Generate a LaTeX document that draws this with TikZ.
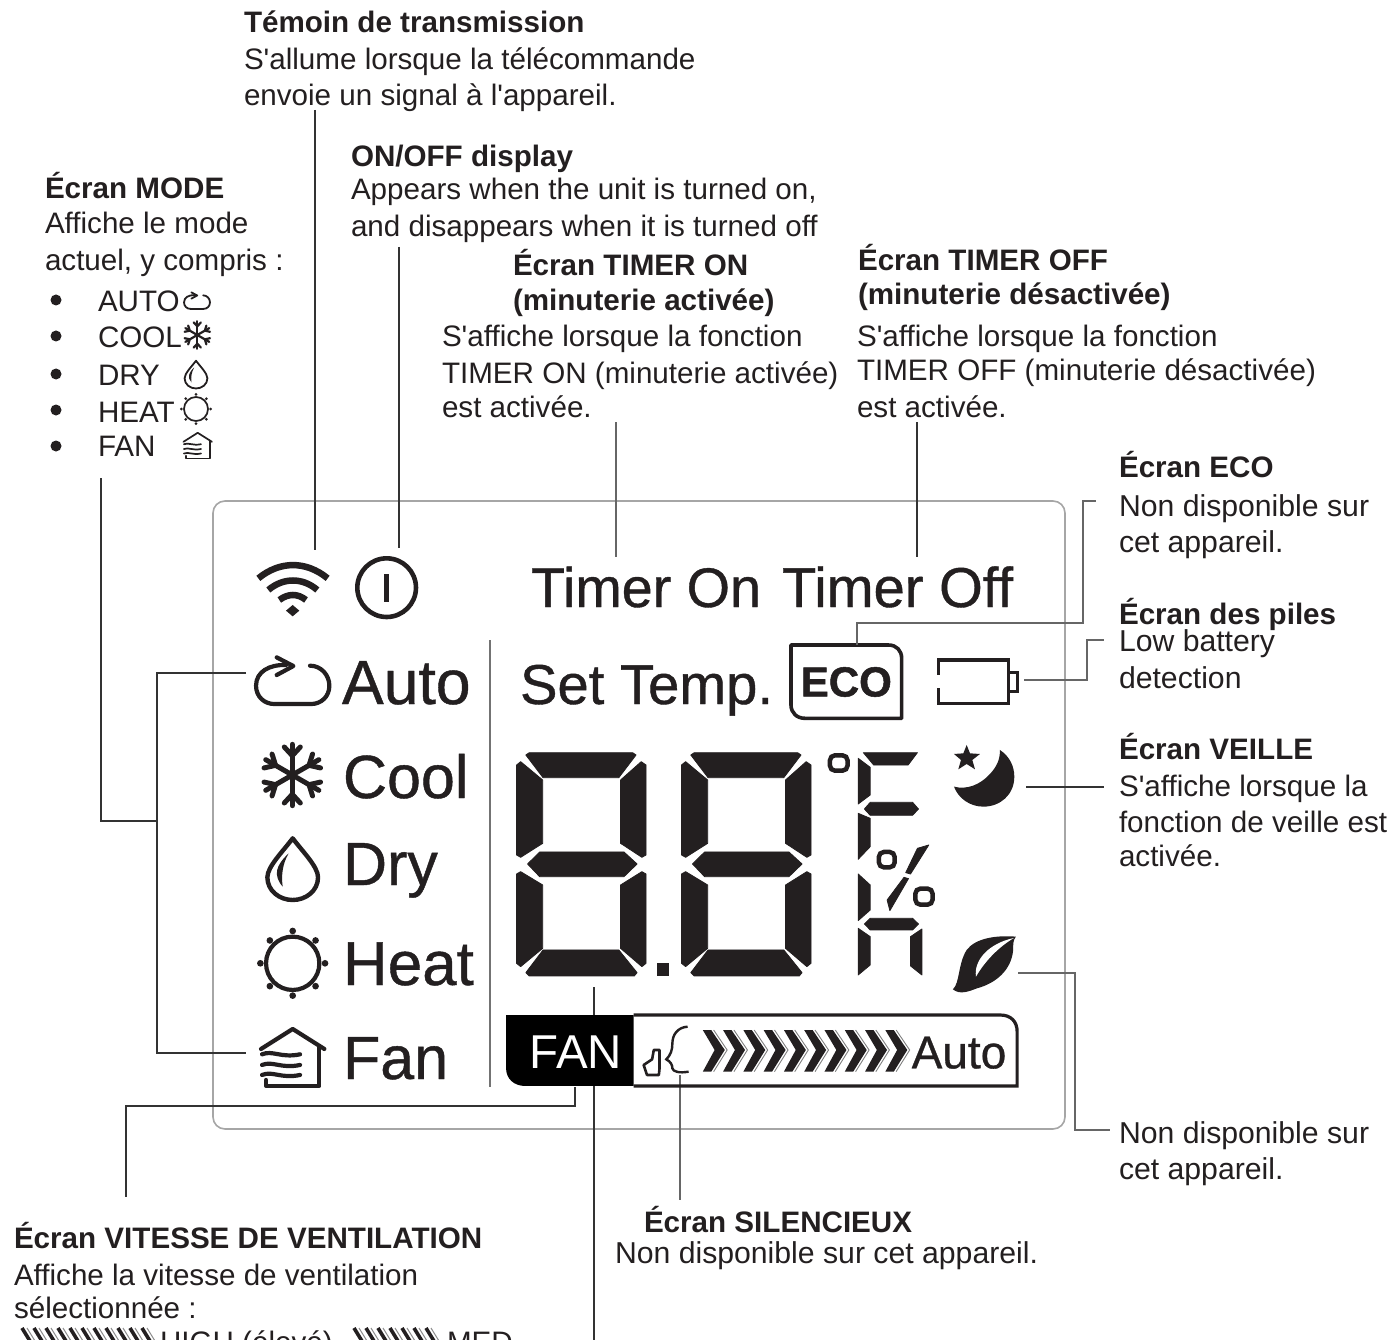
\documentclass[tikz,border=0pt]{standalone}
\usepackage{fontspec}
\setmainfont{Liberation Sans}
\newfontfamily\apf{Liberation Sans}
\newfontfamily\lcdf[FakeBold=0.7]{Liberation Sans}
\newfontfamily\ecof[FakeBold=1.2]{Liberation Sans Bold}
\usetikzlibrary{shapes.geometric}
\definecolor{txt}{HTML}{231F20}
\definecolor{lnk}{HTML}{333333}
\definecolor{lcd}{HTML}{231F20}
\newcommand\ap{{\apf\char39 }}
\tikzset{
 body/.style={anchor=base west,inner sep=0pt,outer sep=0pt,text=txt,font=\fontsize{29.6pt}{30pt}\selectfont},
 bodyw/.style={anchor=base west,inner sep=0pt,outer sep=0pt,text=txt,font=\fontsize{30.2pt}{31pt}\selectfont},
 head/.style={anchor=base west,inner sep=0pt,outer sep=0pt,text=txt,font=\fontsize{29.6pt}{30pt}\selectfont\bfseries},
 lcdt/.style={anchor=base west,inner sep=0pt,outer sep=0pt,text=lcd},
 link/.style={draw=lnk,line width=1.6pt},
 linkthin/.style={draw=lnk!75,line width=1.2pt},
 icon/.style={draw=lcd,line cap=round,line join=round},
 seg/.style={fill=lcd,draw=lcd,line width=0.8pt,line join=round},
}
% icons, in units centred on the icon
\newcommand\iconcycle[4]{\begin{scope}[shift={(#1,#2)},x=#3pt,y=-#3pt,line width=#4pt,icon]
 \draw (-20,-50) .. controls (-70,-52) and (-110,-30) .. (-110,12) .. controls (-110,45) and (-85,67) .. (-55,67) -- (55,67) .. controls (85,67) and (110,45) .. (110,12) .. controls (110,-20) and (85,-48) .. (52,-48);
 \draw (-48,-73) -- (2,-47) -- (-48,-20);
\end{scope}}
\newcommand\iconsnow[4]{\begin{scope}[shift={(#1,#2)},x=#3pt,y=-#3pt,line width=#4pt,icon]
 \foreach \a in {0,60,120}{\begin{scope}[rotate=\a]
  \draw (0,-92) -- (0,92);
  \draw (-24,-84) -- (0,-58) -- (24,-84);
  \draw (-24,84) -- (0,58) -- (24,84);
 \end{scope}}
\end{scope}}
\newcommand\icondrop[4]{\begin{scope}[shift={(#1,#2)},x=#3pt,y=-#3pt,line width=#4pt,icon]
 \draw (0,-95) .. controls (-30,-55) and (-76,-10) .. (-76,22) .. controls (-76,62) and (-40,90) .. (0,90) .. controls (40,90) and (76,62) .. (76,22) .. controls (76,-10) and (30,-55) .. cycle;
 \fill[lcd] (-12,-50) .. controls (-50,-15) and (-60,15) .. (-30,50) .. controls (-35,15) and (-30,-20) .. cycle;
\end{scope}}
\newcommand\iconsun[4]{\begin{scope}[shift={(#1,#2)},x=#3pt,y=-#3pt,line width=#4pt,icon]
 \draw (0,0) circle[radius=80];
 \foreach \a in {0,90,180,270}{\fill[lcd] (\a:97) circle[radius=10];}
 \foreach \a in {45,135,225,315}{\fill[lcd] (\a:97) circle[radius=10];}
\end{scope}}
\newcommand\iconhouse[4]{\begin{scope}[shift={(#1,#2)},x=#3pt,y=-#3pt,line width=#4pt,icon]
 \draw (-95,-28) -- (0,-88) -- (95,-28);
 \draw (80,-35) -- (80,83) -- (-80,83) -- (-80,65);
 \draw (-92,-12) .. controls (-60,-25) and (-35,0) .. (22,-12);
 \draw (-92,20) .. controls (-60,7) and (-35,32) .. (22,20);
 \draw (-92,50) .. controls (-60,37) and (-35,62) .. (22,50);
\end{scope}}
\newcommand\digitsegs{
 \fill[seg] (75,75) -- (85,68) -- (385,68) -- (395,75) -- (345,143) -- (125,143) -- cycle;
 \fill[seg] (48,105) -- (60,95) -- (124,150) -- (124,340) -- (60,382) -- (48,375) -- cycle;
 \fill[seg] (410,95) -- (424,105) -- (424,375) -- (412,382) -- (350,340) -- (350,150) -- cycle;
 \fill[seg] (80,402) -- (115,366) -- (360,366) -- (398,402) -- (360,440) -- (115,440) -- cycle;
 \fill[seg] (60,425) -- (48,432) -- (48,700) -- (60,710) -- (124,655) -- (124,465) -- cycle;
 \fill[seg] (412,425) -- (424,432) -- (424,700) -- (412,710) -- (350,655) -- (350,465) -- cycle;
 \fill[seg] (125,660) -- (345,660) -- (398,728) -- (390,738) -- (85,738) -- (75,728) -- cycle;
}
\begin{document}
\begin{tikzpicture}[x=1pt,y=-1pt]
\path[use as bounding box,clip] (0,0) rectangle (1390,1340);
\fill[white] (0,0) rectangle (1390,1340);

% panel
\draw[draw=black!35,line width=1.6pt,rounded corners=12pt] (213,501) rectangle (1065,1129);
\draw[draw=black!55,line width=1.4pt] (490,640) -- (490,1087);

% texts
\node[head] (t1) at (244,33) {Témoin de transmission};
\node[body] (t2) at (244,70) {S\ap allume lorsque la télécommande};
\node[body] (t3) at (244,106) {envoie un signal à l\ap appareil.};
\node[head] (o1) at (351,167) {ON/OFF display};
\node[body] (o2) at (351,200) {Appears when the unit is turned on,};
\node[body] (o3) at (351,237) {and disappears when it is turned off};
\node[head] (m1) at (45,199) {Écran MODE};
\node[body] (m2) at (45,234) {Affiche le mode};
\node[body] (m3) at (45,271) {actuel, y compris :};
\foreach \n/\y/\b/\s in {a/300/312/AUTO,b/336/348/COOL,c/374/385/DRY,d/410/422/HEAT,e/446/456/FAN}{
 \fill[txt] (56,\y) circle[radius=5.5];
 \node[body] (l\n) at (98,\b) {\s};
}
\node[head] (n1) at (513,276) {Écran TIMER ON};
\node[head] (n2) at (513,311) {(minuterie activée)};
\node[body] (n3) at (442,347) {S\ap affiche lorsque la fonction};
\node[body] (n4) at (442,383) {TIMER ON (minuterie activée)};
\node[body] (n5) at (442,417) {est activée.};
\node[head] (f1) at (858,271) {Écran TIMER OFF};
\node[head] (f2) at (858,305) {(minuterie désactivée)};
\node[body] (f3) at (857,347) {S\ap affiche lorsque la fonction};
\node[body] (f4) at (857,381) {TIMER OFF (minuterie désactivée)};
\node[body] (f5) at (857,417) {est activée.};
\node[head] (e1) at (1119,477) {Écran ECO};
\node[bodyw] (e2) at (1119,516) {Non disponible sur};
\node[bodyw] (e3) at (1119,552) {cet appareil.};
\node[head] (p1) at (1119,624) {Écran des piles};
\node[bodyw] (p2) at (1119,651) {Low battery};
\node[bodyw] (p3) at (1119,688) {detection};
\node[head] (v1) at (1119,759) {Écran VEILLE};
\node[body] (v2) at (1119,796) {S\ap affiche lorsque la};
\node[body] (v3) at (1119,832) {fonction de veille est};
\node[body] (v4) at (1119,866) {activée.};
\node[bodyw] (g1) at (1119,1143) {Non disponible sur};
\node[bodyw] (g2) at (1119,1179) {cet appareil.};
\node[head] (s1) at (644,1232) {Écran SILENCIEUX};
\node[bodyw] (s2) at (615,1263) {Non disponible sur cet appareil.};
\node[head] (w1) at (14,1248) {Écran VITESSE DE VENTILATION};
\node[body] (w2) at (14,1285) {Affiche la vitesse de ventilation};
\node[body] (w3) at (14,1318) {sélectionnée :};
\node[body] (w4) at (160,1352) {HIGH (élevé),};
\node[body] (w5) at (447,1352) {MED};

% hatched speed marks in the last line
\foreach \x in {22,34,46,58,70,82,94,106,118,130,142}{
 \draw[line width=3.6pt,draw=lcd] (\x,1328) -- (\x+8,1341);
 \draw[line width=1pt,draw=black!45] (\x+5,1328) -- (\x+13,1341);
}
\foreach \x in {354,366,378,390,402,414,426}{
 \draw[line width=3.6pt,draw=lcd] (\x,1328) -- (\x+8,1341);
 \draw[line width=1pt,draw=black!45] (\x+5,1328) -- (\x+13,1341);
}

% small list icons
\iconcycle{197}{301}{0.118}{1.8}
\iconsnow{197.3}{335}{0.15}{2.2}
\icondrop{196}{375}{0.15}{1.8}
\iconsun{196}{409}{0.15}{1.7}
\iconhouse{197.7}{446}{0.15}{1.7}

% wifi and power
\begin{scope}[shift={(230,540)},x=0.3333pt,y=-0.3333pt]
 \draw[draw=lcd,line width=6.5pt] (85,115) .. controls (150,62) and (228,62) .. (293,115);
 \draw[draw=lcd,line width=6.5pt] (115,150) .. controls (160,112) and (218,112) .. (262,150);
 \draw[draw=lcd,line width=6.5pt] (148,180) .. controls (175,160) and (203,160) .. (228,180);
 \fill[lcd] (188,195) -- (208,212) -- (188,229) -- (168,212) -- cycle;
 \draw[draw=lcd,line width=4.6pt] (470,143) circle[radius=88];
 \draw[draw=lcd,line width=4.6pt] (470,103) -- (470,187);
\end{scope}

% big icons
\iconcycle{292.7}{681.7}{0.3333}{4.2}
\iconsnow{292.3}{775}{0.3333}{5}
\icondrop{292.7}{870}{0.3333}{4.4}
\iconsun{292.7}{963.3}{0.3333}{4.2}
\iconhouse{292.7}{1058.3}{0.3333}{4.2}

% lcd words
\node[lcdt,font=\lcdf\fontsize{62.5pt}{64pt}\selectfont] (au) at (342,704) {Auto};
\node[lcdt,font=\lcdf\fontsize{61pt}{62pt}\selectfont] (co) at (343,798) {Cool};
\node[lcdt,font=\lcdf\fontsize{61pt}{62pt}\selectfont] (dr) at (343,885) {Dry};
\node[lcdt,font=\lcdf\fontsize{62pt}{62pt}\selectfont] (he) at (343,985) {Heat};
\node[lcdt,font=\lcdf\fontsize{61pt}{62pt}\selectfont] (fa) at (343,1079) {Fan};
\node[lcdt,font=\lcdf\fontsize{55.7pt}{57pt}\selectfont] (ton) at (531,607) {Timer On};
\node[lcdt,font=\lcdf\fontsize{56.2pt}{57pt}\selectfont] (tof) at (782,607) {Timer Off};
\node[lcdt,font=\lcdf\fontsize{56.2pt}{57pt}\selectfont] (st) at (520,704) {Set Temp.};

% ECO, battery, moon
\begin{scope}[shift={(780,630)},x=0.3333pt,y=-0.3333pt]
 \draw[draw=lcd,line width=3.6pt,line join=round] (33,45) -- (325,45) .. controls (350,45) and (365,62) .. (365,85) -- (365,265) -- (75,265) .. controls (50,265) and (33,248) .. (33,225) -- cycle;
 \node[lcdt,anchor=center,font=\ecof\fontsize{42pt}{44pt}\selectfont] (eco) at (199,156) {ECO};
 \draw[draw=lcd,line width=3.4pt] (475,135) -- (475,90) -- (685,90) -- (685,220) -- (475,220) -- (475,175);
 \draw[draw=lcd,line width=3pt] (685,128) -- (712,128) -- (712,185) -- (685,185);
 \fill[lcd] (660,360) .. controls (690,380) and (703,410) .. (703,440) .. controls (703,495) and (660,530) .. (610,530) .. controls (570,530) and (535,505) .. (522,470) .. controls (560,480) and (600,465) .. (630,432) .. controls (650,410) and (660,390) .. (660,360) -- cycle;
 \fill[lcd] (560,345) -- (570,370) -- (600,372) -- (577,390) -- (585,418) -- (560,402) -- (535,418) -- (543,390) -- (522,372) -- (550,370) -- cycle;
\end{scope}

% seven-segment digits and symbols
\begin{scope}[shift={(500,730)},x=0.3444pt,y=-0.3333pt]
 \digitsegs
 \begin{scope}[shift={(479,0)}]\digitsegs\end{scope}
 \fill[lcd] (455,700) rectangle (492,738);
 \fill[seg] (1055,68) -- (1212,68) -- (1185,105) -- (1085,105) -- cycle;
 \fill[seg] (1040,85) -- (1075,112) -- (1075,195) -- (1040,222) -- cycle;
 \fill[seg] (1058,237) -- (1075,217) -- (1198,217) -- (1215,237) -- (1198,256) -- (1075,256) -- cycle;
 \fill[seg] (1040,250) -- (1075,265) -- (1075,350) -- (1040,388) -- cycle;
 \fill[seg] (1040,432) -- (1075,465) -- (1075,540) -- (1040,572) -- cycle;
 \fill[seg] (1058,582) -- (1075,565) -- (1198,565) -- (1215,582) -- (1198,600) -- (1075,600) -- cycle;
 \fill[seg] (1040,595) -- (1075,620) -- (1075,705) -- (1040,735) -- cycle;
 \fill[seg] (1225,597) -- (1225,735) -- (1192,708) -- (1192,620) -- cycle;
 \draw[draw=lcd,line width=4.5pt,rounded corners=5pt] (958,76) rectangle (1009,122);
 \draw[draw=lcd,line width=4.5pt,rounded corners=5pt] (1100,366) rectangle (1146,412);
 \draw[draw=lcd,line width=4.5pt,rounded corners=5pt] (1206,476) rectangle (1256,524);
 \fill[seg] (1245,345) -- (1212,355) -- (1178,428) -- (1192,432) -- cycle;
 \fill[seg] (1173,442) -- (1186,446) -- (1132,542) -- (1124,510) -- cycle;
 % leaf
 \fill[lcd] (1315,778) .. controls (1335,760) and (1330,700) .. (1355,660) .. controls (1380,625) and (1440,615) .. (1498,620) .. controls (1490,630) and (1490,640) .. (1490,660) .. controls (1485,720) and (1440,760) .. (1385,775) .. controls (1360,785) and (1335,795) .. (1315,778) -- cycle;
 \fill[white] (1382,740) .. controls (1375,690) and (1420,640) .. (1492,624) .. controls (1450,650) and (1410,690) .. (1382,740) -- cycle;
\end{scope}

% connector end points
\coordinate (c1a) at (315,110); \coordinate (c1b) at (315,550);
\coordinate (c2a) at (399,247); \coordinate (c2b) at (399,548);
\coordinate (c3a) at (616,422); \coordinate (c3b) at (616,557);
\coordinate (c4a) at (917,422); \coordinate (c4b) at (917,557);
\coordinate (c5a) at (101,478); \coordinate (c5b) at (157,821);
\coordinate (c6a) at (246,673); \coordinate (c6b) at (246,1053); \coordinate (c6c) at (157,673); \coordinate (c6d) at (157,1053);
\coordinate (c7a) at (857,645); \coordinate (c7b) at (1083,623); \coordinate (c7c) at (1096,501);
\coordinate (c8a) at (1024,680); \coordinate (c8b) at (1087,680); \coordinate (c8c) at (1104,640);
\coordinate (c9a) at (1026,787); \coordinate (c9b) at (1104,787);
\coordinate (c10a) at (1018,973); \coordinate (c10b) at (1075,973); \coordinate (c10c) at (1110,1130);
\coordinate (c11a) at (575,1087); \coordinate (c11b) at (575,1106); \coordinate (c11c) at (126,1106); \coordinate (c11d) at (126,1197);
\coordinate (c12a) at (594,987); \coordinate (c12b) at (594,1340);
\coordinate (c13a) at (680,1075); \coordinate (c13b) at (680,1200);

\draw[link] (c1a) -- (c1b);
\draw[link] (c2a) -- (c2b);
\draw[linkthin] (c3a) -- (c3b);
\draw[link] (c4a) -- (c4b);
\draw[link] (c5a) |- (c5b);
\draw[link] (c6a) -- (c6c) -- (c6d) -- (c6b);
\draw[linkthin] (c7a) |- (c7b) |- (c7c);
\draw[linkthin] (c8a) -- (c8b) |- (c8c);
\draw[link] (c9a) -- (c9b);
\draw[linkthin] (c10a) -- (c10b) |- (c10c);
\draw[link] (c11a) -- (c11b) -- (c11c) -- (c11d);
\draw[link] (c12a) -- (c12b);
\draw[linkthin] (c13a) -- (c13b);

% fan bar, over the connector that passes behind it
\begin{scope}[shift={(500,1000)},x=0.338pt,y=-0.3333pt]
 \fill[black] (18,45) -- (395,45) -- (395,258) -- (75,258) .. controls (40,258) and (18,235) .. (18,205) -- cycle;
 \draw[draw=lcd,line width=3.2pt] (395,45) -- (1480,45) .. controls (1512,45) and (1530,65) .. (1530,95) -- (1530,258) -- (395,258);
 \node[lcdt,text=white,font=\fontsize{47.5pt}{48pt}\selectfont] (fn) at (88,205) {FAN};
 \node[lcdt,font=\lcdf\fontsize{46pt}{48pt}\selectfont] (fa2) at (1218,205) {Auto};
 \draw[draw=lcd,line width=2.6pt,line join=round] (425,195) -- (450,178) -- (455,150) -- (472,150) -- (472,205) -- (470,225) -- (435,225) -- cycle;
 \draw[draw=lcd,line width=2.4pt] (555,80) .. controls (525,82) and (510,105) .. (510,130) .. controls (510,150) and (505,165) .. (492,178) .. controls (505,185) and (510,195) .. (510,205) .. controls (512,215) and (530,220) .. (558,215);
 \foreach \x in {0,60,120,180,240,300,360,420,480,540}{
  \begin{scope}[shift={(\x,0)}]
   \fill[lcd] (600,90) -- (625,90) -- (665,150) -- (625,215) -- (600,215) -- (635,150) -- cycle;
   \draw[draw=black!50,line width=0.9pt] (632,90) -- (672,150) -- (632,215);
  \end{scope}
 }
\end{scope}
\end{tikzpicture}
\end{document}
